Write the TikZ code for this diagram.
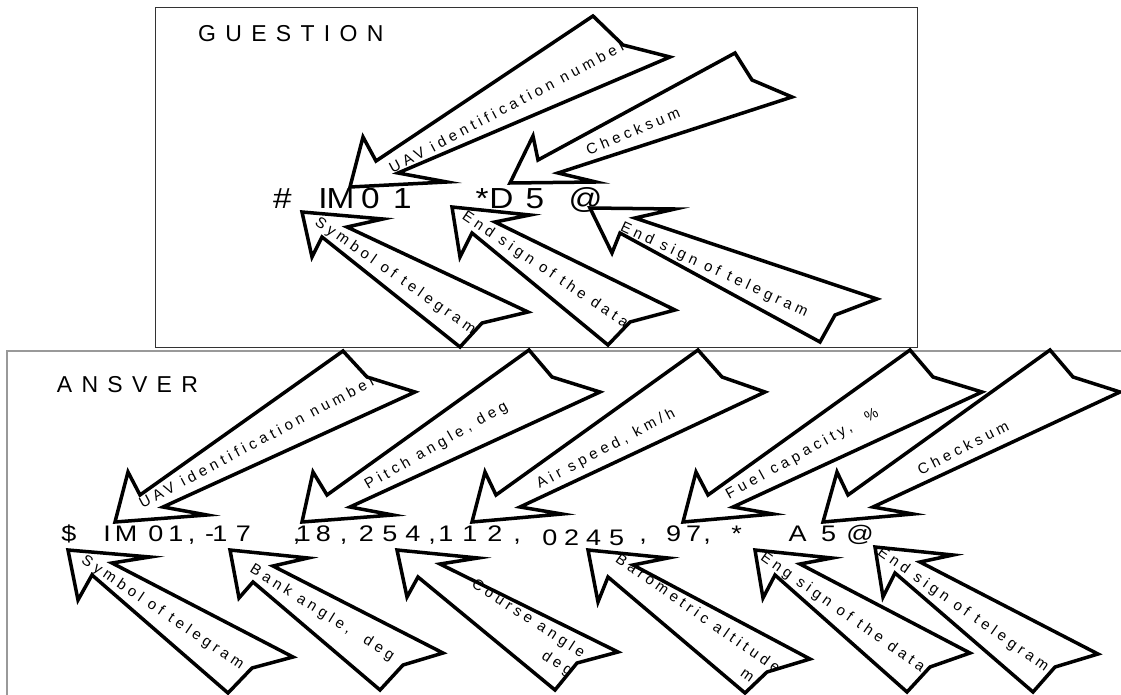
\documentclass[tikz,border=0pt]{standalone}
\usepackage{fontspec}
\setmainfont{Liberation Sans}
\newfontfamily\lblfont[LetterSpace=28]{Liberation Sans}
\newcommand\widesp{\spaceskip=9.3pt\relax}
\begin{document}
\begin{tikzpicture}[x=1pt,y=-1pt,
  callout/.style={draw=black,fill=white,line width=3.5pt,line join=miter,miter limit=10},
  lbl/.style={font=\lblfont\fontsize{15}{22}\selectfont,inner sep=0pt},
  tgq/.style={font=\fontsize{29}{30}\selectfont,anchor=base,inner sep=0pt,xscale=1.15,transform shape},
  tga/.style={font=\fontsize{22.5}{24}\selectfont,anchor=base,inner sep=0pt,xscale=1.2,transform shape},
  ttl/.style={font=\fontsize{23}{24}\selectfont,anchor=base west,inner sep=0pt},
  qbox/.style={draw=black!80,line width=1pt},
  abox/.style={draw=black!40,line width=1.5pt}]
\useasboundingbox (0,0) rectangle (1121,695);
\clip (0,0) rectangle (1121,695);
% frames
\draw[qbox] (155,8) rectangle (917,347);
\draw[abox] (1130,351) -- (7,351) -- (7,705);
% titles
\node[ttl] (qtitle) at (198,41.7) {\widesp G U E S T I O N};
\node[ttl] (atitle) at (56.7,392.3) {\widesp A N S V E R};
% question arrows
\draw[callout] (350,187) -- (363,137) -- (376,161) -- (593,16) -- (623,45) -- (670,57) -- (398,173) -- (447,182) -- cycle;
\draw[callout] (510,183) -- (533,136) -- (538,160) -- (735,53) -- (752,80) -- (792,97) -- (558,173) -- (596,182) -- cycle;
\draw[callout] (302,212) -- (383,219) -- (347,227) -- (528,312) -- (482,323) -- (460,347) -- (322,237) -- (312,257) -- cycle;
\draw[callout] (452,207) -- (530,215) -- (495,222) -- (675,310) -- (630,322) -- (608,345) -- (472,233) -- (460,257) -- cycle;
\draw[callout] (590,208) -- (675,209) -- (635,218) -- (877,299) -- (835,315) -- (820,342) -- (620,233) -- (612,253) -- cycle;
% answer arrows
\draw[callout] (115,522) -- (128,472) -- (140,495) -- (343,351) -- (367,377) -- (415,392) -- (163,507) -- (207,515) -- cycle;
\draw[callout] (302,522) -- (313,472) -- (327,495) -- (529,350) -- (552,377) -- (600,392) -- (350,507) -- (393,515) -- cycle;
\draw[callout] (472,522) -- (485,472) -- (496,495) -- (698,350) -- (722,377) -- (765,392) -- (520,507) -- (562,514) -- cycle;
\draw[callout] (683,522) -- (696,472) -- (708,495) -- (910,350) -- (933,377) -- (982,392) -- (733,507) -- (773,514) -- cycle;
\draw[callout] (823,522) -- (837,472) -- (848,495) -- (1050,350) -- (1073,377) -- (1120,392) -- (873,507) -- (913,514) -- cycle;
\draw[callout] (68,550) -- (150,557) -- (112,563) -- (293,657) -- (252,668) -- (228,693) -- (92,575) -- (78,600) -- cycle;
\draw[callout] (230,550) -- (308,558) -- (273,566) -- (443,653) -- (403,665) -- (380,690) -- (253,582) -- (239,598) -- cycle;
\draw[callout] (397,550) -- (478,558) -- (440,564) -- (618,652) -- (577,663) -- (555,690) -- (418,577) -- (407,597) -- cycle;
\draw[callout] (588,550) -- (668,558) -- (633,565) -- (810,659) -- (767,672) -- (745,693) -- (608,577) -- (598,602) -- cycle;
\draw[callout] (755,550) -- (832,558) -- (800,564) -- (970,653) -- (930,667) -- (907,692) -- (775,575) -- (763,598) -- cycle;
\draw[callout] (875,547) -- (953,555) -- (920,562) -- (1098,654) -- (1055,667) -- (1033,692) -- (895,573) -- (883,597) -- cycle;
% question labels
\node[lbl,rotate=28] (qL1) at (507,107) {UAV identification number};
\node[lbl,rotate=23] (qL2) at (633,131) {Checksum};
\node[lbl,rotate=-35] (qL3) at (395,276) {Symbol of telegram};
\node[lbl,rotate=-34] (qL4) at (545,270) {End sign of the data};
\node[lbl,rotate=-25] (qL5) at (714,270) {End sign of telegram};
% answer labels
\node[lbl,rotate=28] (aL1) at (257,441.5) {UAV identification number};
\node[lbl,rotate=30] (aL2) at (436.5,446) {Pitch angle, deg};
\node[lbl,rotate=28] (aL3) at (606,449) {Air speed, km/h};
\node[lbl,rotate=29] (aL4) at (802.5,454) {Fuel capacity,\ \ \%};
\node[lbl,rotate=27] (aL5) at (963,447.5) {Checksum};
\node[lbl,rotate=-34] (aL6) at (162.5,613) {Symbol of telegram};
\node[lbl,rotate=-32] (aL7) at (322,613) {Bank angle,\ \ deg};
\node[lbl,rotate=-33,align=right] (aL8) at (522,628) {Course angle\\deg};
\node[lbl,rotate=-35,align=right] (aL9) at (692,622) {Barometric altitude\\m\hspace*{16pt}};
\node[lbl,rotate=-35] (aL10) at (842.5,612.5) {Eng sign of the data};
\node[lbl,rotate=-35] (aL11) at (963,610) {End sign of telegram};
% telegrams
\foreach \x/\c [count=\i] in {282.5/\#, 323/I, 340.5/M, 370.5/0, 402.5/1, 482/*, 501.5/D, 535/5, 585.5/@}
  \node[tgq] (q\i) at (\x,208) {\c};
\foreach \x/\y/\c [count=\i] in {69/541/\$, 107/541/I, 126/541/M, 156/541/0, 176/541/1, 191.5/541/{,}, 209.5/541/-, 220/541/1, 243.5/541/7, 296.5/541/{,}, 303.5/541/1, 323.5/541/8, 343.5/541/{,}, 366.5/541/2, 390/541/5, 413/541/4, 432/541/{,}, 446/541/1, 470/541/1, 495/541/2, 517/541/{,}, 550/545/0, 571.5/545/2, 593.5/545/4, 616.5/545/5, 643/541/{,}, 673.5/541/9, 693.5/541/7, 707/541/{,}, 736.5/541/*, 797.5/541/A, 828.5/541/5, 860/541/@}
  \node[tga] (a\i) at (\x,\y) {\c};
\end{tikzpicture}
\end{document}
